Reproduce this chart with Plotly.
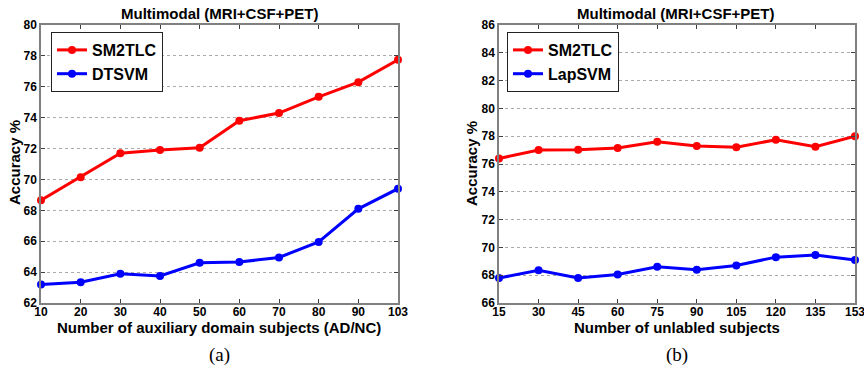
import plotly.graph_objects as go

# ---- data ----
aux_subjects = ["10", "20", "30", "40", "50", "60", "70", "80", "90", "103"]
sm2tlc_a = [68.65, 70.15, 71.7, 71.9, 72.05, 73.8, 74.3, 75.35, 76.3, 77.75]
dtsvm_a = [63.2, 63.35, 63.9, 63.75, 64.6, 64.65, 64.95, 65.95, 68.1, 69.4]

unlab_subjects = ["15", "30", "45", "60", "75", "90", "105", "120", "135", "153"]
sm2tlc_b = [76.4, 77.0, 77.03, 77.15, 77.6, 77.3, 77.2, 77.75, 77.25, 78.0]
lapsvm_b = [67.8, 68.35, 67.8, 68.05, 68.6, 68.4, 68.7, 69.3, 69.45, 69.1]

title_text = "Multimodal (MRI+CSF+PET)"
ylabel = "Accuracy %"
xlabel_a = "Number of auxiliary domain subjects (AD/NC)"
xlabel_b = "Number of unlabled subjects"

W, H = 864, 374
FONT = "Liberation Sans, Arial, sans-serif"
RED = "#ff0000"
BLUE = "#0000ff"


def px(x):
    return x / W


def py(y):
    return 1 - y / H


fig = go.Figure()
idx = list(range(len(aux_subjects)))
idx_b = list(range(len(unlab_subjects)))


def add(x, y, name, color, xa, ya, legend):
    fig.add_trace(go.Scatter(
        x=x, y=y, name=name, mode="lines+markers",
        line=dict(color=color, width=3),
        marker=dict(color=color, size=8, symbol="circle"),
        xaxis=xa, yaxis=ya, legend=legend, cliponaxis=False))


add(idx, sm2tlc_a, "SM2TLC", RED, "x", "y", "legend")
add(idx, dtsvm_a, "DTSVM", BLUE, "x", "y", "legend")
add(idx_b, sm2tlc_b, "SM2TLC", RED, "x2", "y2", "legend2")
add(idx_b, lapsvm_b, "LapSVM", BLUE, "x2", "y2", "legend2")

ydom = [py(303), py(25)]
xdomA = [px(41), px(398)]
xdomB = [px(499), px(855)]

tickfont = dict(family=FONT, size=12, color="black", weight="bold")
axis_common = dict(showline=True, linecolor="#808080", linewidth=1.5, mirror="ticks",
                   ticks="inside", ticklen=4, tickcolor="#404040", zeroline=False,
                   tickfont=tickfont, automargin=False, ticklabeloverflow="allow")
grid = dict(showgrid=True, gridcolor="#aaaaaa", griddash="dot", gridwidth=1)

legfont = dict(family=FONT, size=16, color="black", weight="bold")
fig.update_layout(
    width=W, height=H, margin=dict(l=0, r=0, t=0, b=0, autoexpand=False),
    paper_bgcolor="white", plot_bgcolor="white",
    showlegend=True,
    xaxis=dict(domain=xdomA, anchor="y", range=[0, 9], tickvals=idx, ticktext=aux_subjects,
               showgrid=False, ticklabelstandoff=-3, **axis_common),
    yaxis=dict(domain=ydom, anchor="x", range=[62, 80], dtick=2, **grid, **axis_common),
    xaxis2=dict(domain=xdomB, anchor="y2", range=[0, 9], tickvals=idx_b, ticktext=unlab_subjects,
                showgrid=False, ticklabelstandoff=-3, **axis_common),
    yaxis2=dict(domain=ydom, anchor="x2", range=[66, 86], dtick=2, **grid, **axis_common),
    legend=dict(x=px(51), y=py(32), xanchor="left", yanchor="top",
                bgcolor="white", bordercolor="#222222", borderwidth=1,
                font=legfont, itemwidth=30, tracegroupgap=0),
    legend2=dict(x=px(507), y=py(32), xanchor="left", yanchor="top",
                 bgcolor="white", bordercolor="#222222", borderwidth=1,
                 font=legfont, itemwidth=30, tracegroupgap=0),
)

bold = dict(family=FONT, color="black", weight="bold")
serif = dict(family="Liberation Serif, Times New Roman, serif", size=19, color="black")
annos = [
    dict(text=title_text, x=px(220), y=py(13), font=dict(size=15, **bold)),
    dict(text=title_text, x=px(676), y=py(13), font=dict(size=15, **bold)),
    dict(text=xlabel_a, x=px(219), y=py(327), font=dict(size=15, **bold)),
    dict(text=xlabel_b, x=px(677), y=py(327), font=dict(size=15, **bold)),
    dict(text=ylabel, x=px(14), y=py(163), textangle=-90, font=dict(size=15, **bold)),
    dict(text=ylabel, x=px(471), y=py(163), textangle=-90, font=dict(size=15, **bold)),
    dict(text="(a)", x=px(219), y=py(355), font=serif),
    dict(text="(b)", x=px(677), y=py(355), font=serif),
]
for a in annos:
    fig.add_annotation(xref="paper", yref="paper", showarrow=False,
                       xanchor="center", yanchor="middle", **a)

fig.write_html("out.html", config={"displayModeBar": False},
               post_script="document.body.style.margin='0';document.body.style.overflow='hidden';")
